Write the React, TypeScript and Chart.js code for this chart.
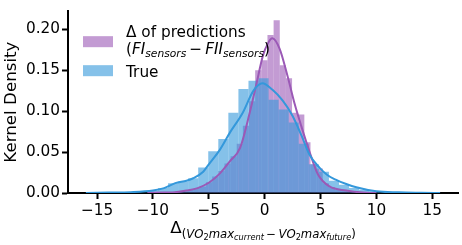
import React, { useEffect, useRef } from 'react';
import { Chart, registerables } from 'chart.js';

Chart.register(...registerables);

// ---- data ----
const predBinCenters = [
  -8.825, -8.275, -7.725, -7.175, -6.625, -6.075, -5.525, -4.975, -4.425, -3.875, -3.325,
  -2.775, -2.225, -1.675, -1.125, -0.575, -0.025, 0.525, 1.075, 1.625, 2.175, 2.725, 3.275,
  3.825, 4.375, 4.925, 5.475, 6.025, 6.575, 7.125, 7.675, 8.225,
];
const predHist = [
  0.001, 0.001, 0.002, 0.002, 0.004, 0.006, 0.008, 0.013, 0.02, 0.027, 0.036,
  0.045, 0.06, 0.082, 0.112, 0.15, 0.162, 0.193, 0.211, 0.156, 0.14, 0.098, 0.096,
  0.062, 0.035, 0.03, 0.012, 0.007, 0.004, 0.003, 0.002, 0.001,
];
const trueBinCenters = [
  -11.8, -10.9, -10.0, -9.1, -8.2, -7.3, -6.4, -5.5, -4.6, -3.7, -2.8, -1.9, -1.0, -0.1,
  0.8, 1.7, 2.6, 3.5, 4.4, 5.3, 6.2, 7.1, 8.0, 8.9, 9.8, 10.7, 11.6,
];
const trueHist = [
  0.001, 0.001, 0.003, 0.006, 0.012, 0.014, 0.018, 0.031, 0.051, 0.066, 0.098, 0.127, 0.137, 0.14,
  0.114, 0.102, 0.086, 0.06, 0.035, 0.026, 0.015, 0.01, 0.006, 0.004, 0.002, 0.001, 0.001,
];
const predKdeX = [-10.5, -9, -8, -7, -6, -5, -4, -3.1, -2.2, -1.34, -0.74, -0.15, 0.3, 0.69, 1.34, 2.08, 2.68, 3.27, 4.0, 4.76, 5.8, 7.3, 8.8, 10];
const predKdeY = [0, 0.0005, 0.001, 0.003, 0.006, 0.0125, 0.024, 0.039, 0.055, 0.098, 0.133, 0.168, 0.183, 0.189, 0.176, 0.141, 0.109, 0.082, 0.051, 0.023, 0.008, 0.003, 0.0005, 0];
const trueKdeX = [-16, -14, -12, -10, -9, -8, -7, -6.4, -5.5, -5, -4, -3.1, -2, -1, -0.2, 0.7, 1.6, 2.5, 3.3, 4, 4.9, 5.6, 6.4, 7.3, 8.2, 10, 12, 14, 15.7];
const trueKdeY = [0, 0.0005, 0.001, 0.003, 0.006, 0.012, 0.015, 0.018, 0.026, 0.035, 0.053, 0.074, 0.097, 0.125, 0.134, 0.126, 0.113, 0.094, 0.07, 0.047, 0.031, 0.022, 0.016, 0.011, 0.007, 0.002, 0.0008, 0.0003, 0];
const xTickValues = [-15, -10, -5, 0, 5, 10, 15];
const yTickValues = [0, 0.05, 0.1, 0.15, 0.2];
const legendLabels = ['Δ of predictions', 'True'];
const yTitle = 'Kernel Density';

const X_MIN = -17.6;
const X_MAX = 17.3;
const Y_MAX = 0.222;

const PURPLE = '#9b59b6';
const BLUE = '#3498db';
const PURPLE_FILL = 'rgba(155,89,182,0.6)';
const BLUE_FILL = 'rgba(52,152,219,0.6)';
const FAMILY = '"DejaVu Sans", sans-serif';

type Part = { t: string; s: number; i?: boolean; dy?: number };

function fontOf(p: Part) {
  return `${p.i ? 'italic ' : ''}${p.s}px ${FAMILY}`;
}
function richWidth(ctx: CanvasRenderingContext2D, parts: Part[]) {
  let w = 0;
  for (const p of parts) {
    ctx.font = fontOf(p);
    w += ctx.measureText(p.t).width;
  }
  return w;
}
function drawRich(ctx: CanvasRenderingContext2D, x: number, y: number, parts: Part[]) {
  let cx = x;
  for (const p of parts) {
    ctx.font = fontOf(p);
    ctx.fillText(p.t, cx, y + (p.dy || 0));
    cx += ctx.measureText(p.t).width;
  }
}

const M = 15.3;
const S1 = 10.7;
const L = 16.7;
const L1 = 11.7;
const L2 = 8.2;

const legendLine2: Part[] = [
  { t: '(', s: M },
  { t: 'FI', s: M, i: true },
  { t: 'sensors', s: S1, i: true, dy: 3 },
  { t: '\u2009\u2212\u2009', s: M },
  { t: 'FII', s: M, i: true },
  { t: 'sensors', s: S1, i: true, dy: 3 },
  { t: ')', s: M },
];

const xTitleParts: Part[] = [
  { t: 'Δ', s: L },
  { t: '(', s: L1, dy: 4.5 },
  { t: 'VO', s: L1, i: true, dy: 4.5 },
  { t: '2', s: L2, dy: 6.5 },
  { t: 'max', s: L1, i: true, dy: 4.5 },
  { t: 'current', s: L2, i: true, dy: 6.5 },
  { t: '\u2009\u2212\u2009', s: L1, dy: 4.5 },
  { t: 'VO', s: L1, i: true, dy: 4.5 },
  { t: '2', s: L2, dy: 6.5 },
  { t: 'max', s: L1, i: true, dy: 4.5 },
  { t: 'future', s: L2, i: true, dy: 6.5 },
  { t: ')', s: L1, dy: 4.5 },
];

const textPlugin = {
  id: 'richText',
  afterDraw(chart: any) {
    const ctx: CanvasRenderingContext2D = chart.ctx;
    const a = chart.chartArea;
    ctx.save();
    ctx.textAlign = 'left';
    ctx.textBaseline = 'alphabetic';
    // legend
    ctx.fillStyle = PURPLE_FILL;
    ctx.fillRect(a.left + 15, a.top + 25, 30, 11);
    ctx.fillStyle = BLUE_FILL;
    ctx.fillRect(a.left + 15, a.top + 54, 30, 11);
    ctx.fillStyle = '#000';
    const tx = a.left + 58;
    drawRich(ctx, tx, a.top + 26, [{ t: legendLabels[0], s: M }]);
    drawRich(ctx, tx, a.top + 43, legendLine2);
    drawRich(ctx, tx, a.top + 66, [{ t: legendLabels[1], s: M }]);
    // x title
    const w = richWidth(ctx, xTitleParts);
    const cx = (a.left + a.right) / 2;
    drawRich(ctx, cx - w / 2, a.bottom + 40, xTitleParts);
    ctx.restore();
  },
};

function fmtX(v: number) {
  return v < 0 ? '\u2212' + Math.abs(v) : String(v);
}

export default function App() {
  const ref = useRef<HTMLCanvasElement>(null);
  useEffect(() => {
    document.body.style.margin = '0';
    const canvas = ref.current;
    if (!canvas) return;
    const hiddenX = () => ({
      type: 'linear',
      display: false,
      min: X_MIN,
      max: X_MAX,
      offset: false,
      grid: { offset: false },
    });
    const chart = new Chart(canvas, {
      type: 'bar',
      data: {
        datasets: [
          {
            type: 'line',
            label: legendLabels[1] + ' KDE',
            data: trueKdeX.map((x, i) => ({ x, y: trueKdeY[i] })),
            xAxisID: 'x',
            borderColor: BLUE,
            borderWidth: 2,
            pointRadius: 0,
            fill: false,
            cubicInterpolationMode: 'monotone',
            order: 0,
          },
          {
            type: 'line',
            label: legendLabels[0] + ' KDE',
            data: predKdeX.map((x, i) => ({ x, y: predKdeY[i] })),
            xAxisID: 'x',
            borderColor: PURPLE,
            borderWidth: 2,
            pointRadius: 0,
            fill: false,
            cubicInterpolationMode: 'monotone',
            order: 1,
          },
          {
            type: 'bar',
            label: legendLabels[1],
            data: trueBinCenters.map((x, i) => ({ x, y: trueHist[i] })),
            xAxisID: 'xb',
            backgroundColor: BLUE_FILL,
            borderWidth: 0,
            inflateAmount: 0,
            grouped: false,
            barPercentage: 1,
            categoryPercentage: 1,
            order: 2,
          },
          {
            type: 'bar',
            label: legendLabels[0],
            data: predBinCenters.map((x, i) => ({ x, y: predHist[i] })),
            xAxisID: 'xp',
            backgroundColor: PURPLE_FILL,
            borderWidth: 0,
            inflateAmount: 0,
            grouped: false,
            barPercentage: 1,
            categoryPercentage: 1,
            order: 3,
          },
        ] as any,
      },
      options: {
        animation: false,
        responsive: false,
        layout: { padding: { top: 4, right: 4, left: 0, bottom: 0 } },
        plugins: { legend: { display: false }, tooltip: { enabled: false } },
        scales: {
          x: {
            type: 'linear',
            position: 'bottom',
            min: X_MIN,
            max: X_MAX,
            offset: false,
            border: { display: true, color: '#000', width: 2 },
            grid: {
              display: true,
              offset: false,
              drawOnChartArea: false,
              drawTicks: true,
              tickLength: 6,
              tickWidth: 2,
              tickColor: '#000',
            },
            afterBuildTicks: (s: any) => {
              s.ticks = xTickValues.map((v) => ({ value: v }));
            },
            ticks: {
              color: '#000',
              font: { size: M, family: FAMILY },
              padding: 3,
              maxRotation: 0,
              autoSkip: false,
              callback: (v: any) => fmtX(Number(v)),
            },
            afterFit: (s: any) => {
              s.height = 52;
            },
          },
          xp: hiddenX(),
          xb: hiddenX(),
          y: {
            type: 'linear',
            min: 0,
            max: Y_MAX,
            border: { display: true, color: '#000', width: 2 },
            grid: {
              display: true,
              drawOnChartArea: false,
              drawTicks: true,
              tickLength: 6,
              tickWidth: 2,
              tickColor: '#000',
            },
            afterBuildTicks: (s: any) => {
              s.ticks = yTickValues.map((v) => ({ value: v }));
            },
            ticks: {
              color: '#000',
              font: { size: M, family: FAMILY },
              padding: 2,
              callback: (v: any) => Number(v).toFixed(2),
            },
            title: {
              display: true,
              text: yTitle,
              color: '#000',
              font: { size: L, family: FAMILY },
              padding: { top: 2, bottom: 0 },
            },
            afterFit: (s: any) => {
              s.width = 68;
            },
          },
        } as any,
      },
      plugins: [textPlugin],
    } as any);
    return () => chart.destroy();
  }, []);
  return (
    <div style={{ width: 462, height: 245 }}>
      <canvas ref={ref} width={462} height={245} style={{ display: 'block' }} />
    </div>
  );
}
